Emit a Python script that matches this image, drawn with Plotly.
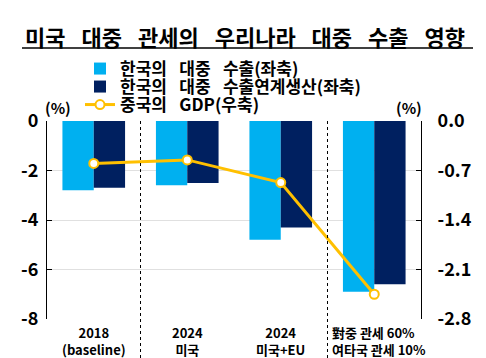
import plotly.graph_objects as go

categories = ["2018", "2024 미국", "2024 미국+EU", "對중 관세 60%"]
cat_labels = ["2018<br>(baseline)", "2024<br>미국", "2024<br>미국+EU", "對중 관세 60%<br>여타국 관세 10%"]
exports = [-2.8, -2.6, -4.8, -6.9]
linked_prod = [-2.7, -2.5, -4.3, -6.6]
china_gdp = [-0.6, -0.55, -0.87, -2.45]
left_ticks = [0, -2, -4, -6, -8]
right_ticks = [0.0, -0.7, -1.4, -2.1, -2.8]

FONT = "Noto Sans CJK KR"
SP = "\u2002 "
x_idx = list(range(len(categories)))

L, R, T, B = 47, 65, 121, 39
PW, PH = 486 - L - R, 358 - T - B


def px(x):
    return (x - L) / PW


def py(y):
    return (358 - B - y) / PH


fig = go.Figure()
fig.add_trace(go.Bar(x=x_idx, y=exports, name=f"한국의{SP}대중{SP}수출(좌축)", legend="legend",
                     marker=dict(color="#00B0F0", line=dict(width=0))))
fig.add_trace(go.Bar(x=x_idx, y=linked_prod, name=f"한국의{SP}대중{SP}수출연계생산(좌축)", legend="legend2",
                     marker=dict(color="#002060", line=dict(width=0))))
fig.add_trace(go.Scatter(x=x_idx, y=china_gdp, name=f"중국의{SP}GDP(우축)", yaxis="y2", legend="legend3",
                         mode="lines+markers",
                         line=dict(color="#FFC000", width=3),
                         marker=dict(size=9, color="white", line=dict(color="#FFC000", width=2))))

legfont = dict(size=17, family=FONT, color="black", weight="bold")
legcommon = dict(xanchor="left", yanchor="middle", font=legfont, bgcolor="rgba(0,0,0,0)",
                 itemwidth=30, borderwidth=0)

fig.update_layout(
    width=486, height=358,
    margin=dict(l=L, r=R, t=T, b=B),
    paper_bgcolor="white", plot_bgcolor="white",
    font=dict(family=FONT, color="black"),
    barmode="group", bargap=0.33, bargroupgap=0,
    showlegend=True,
    legend=dict(x=px(80), y=py(69), **legcommon),
    legend2=dict(x=px(80), y=py(87), **legcommon),
    legend3=dict(x=px(80), y=py(105), **legcommon),
    xaxis=dict(range=[-0.5, 3.5], tickvals=x_idx, ticktext=["", "", "", ""],
               showgrid=False, zeroline=False, showline=False, ticks=""),
    yaxis=dict(range=[-8, 0], tickvals=left_ticks, ticktext=[str(v) for v in left_ticks],
               showgrid=True, gridcolor="#E0E0E0", gridwidth=1, zeroline=False,
               showline=True, linecolor="black", linewidth=1,
               ticks="inside", ticklen=5, tickcolor="black",
               tickfont=dict(size=18, family=FONT, color="black", weight="bold"),
               ticklabelstandoff=4),
    yaxis2=dict(range=[-2.8, 0], overlaying="y", side="right",
                tickvals=right_ticks, ticktext=[f"{v:.1f}" for v in right_ticks],
                showgrid=False, zeroline=False,
                showline=True, linecolor="black", linewidth=1,
                ticks="inside", ticklen=5, tickcolor="black",
                tickfont=dict(size=18, family=FONT, color="black", weight="bold"),
                ticklabelstandoff=12),
)

# title and underline
title = f"미국{SP}대중{SP}관세의{SP}우리나라{SP}대중{SP}수출{SP}영향"
fig.add_annotation(text=f"<b>{title}</b>", xref="paper", yref="paper",
                   x=px(23), y=py(36), xanchor="left", yanchor="middle",
                   showarrow=False, font=dict(size=22, family=FONT, color="black"))
fig.add_shape(type="line", xref="paper", yref="paper",
              x0=px(22), x1=px(473), y0=py(48), y1=py(48),
              line=dict(color="black", width=1.5))

# unit labels
fig.add_annotation(text="<b>(%)</b>", xref="paper", yref="paper", x=px(58),
                   y=py(107), xanchor="center", yanchor="middle", showarrow=False,
                   font=dict(size=15, family=FONT, color="black"))
fig.add_annotation(text="<b>(%)</b>", xref="paper", yref="paper", x=px(409),
                   y=py(107), xanchor="center", yanchor="middle", showarrow=False,
                   font=dict(size=15, family=FONT, color="black"))

# category labels
for i, lab in enumerate(cat_labels):
    if i == 3:
        fig.add_annotation(text=f"<b>{lab}</b>", xref="x", yref="paper", x=2.5, xshift=2,
                           y=py(321), xanchor="left", yanchor="top", align="left",
                           showarrow=False, font=dict(size=13, family=FONT, color="black"))
    else:
        fig.add_annotation(text=f"<b>{lab}</b>", xref="x", yref="paper", x=i,
                           y=py(321), xanchor="center", yanchor="top", align="center",
                           showarrow=False, font=dict(size=13, family=FONT, color="black"))

# dotted separators
for xv in [0.5, 2.5]:
    fig.add_shape(type="line", xref="x", yref="paper", x0=xv, x1=xv, y0=1, y1=py(358),
                  line=dict(color="black", width=1, dash="dot"))

fig.write_html("out.html", config={"displayModeBar": False},
               post_script="document.body.style.margin='0';")
